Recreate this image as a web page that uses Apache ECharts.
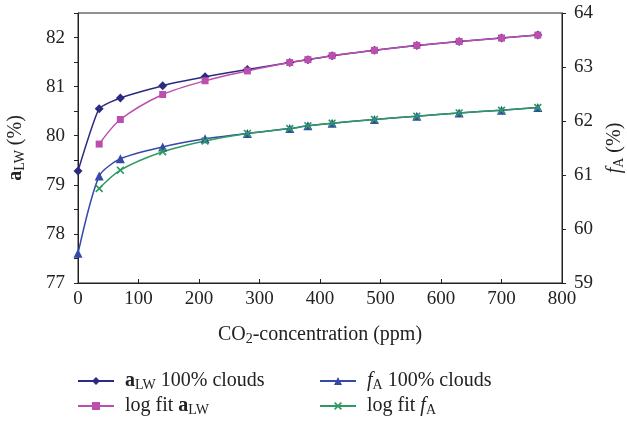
<!DOCTYPE html>
<html><head><meta charset="utf-8">
<script src="https://cdn.jsdelivr.net/npm/echarts@6/dist/echarts.min.js"></script>
<style>html,body{margin:0;padding:0;background:#fff}#c{width:627px;height:423px}</style>
</head><body><div id="c"></div>
<script>
var xs = [0,35,70,140,210,280,350,380,420,490,560,630,700,760];
var aLW = [79.28,80.55,80.77,81.02,81.20,81.35,81.49,81.55,81.63,81.74,81.84,81.92,81.99,82.05];
var fitXs = [35,70,140,210,280,350,380,420,490,560,630,700,760];
var fitALW = [79.83,80.33,80.84,81.12,81.32,81.49,81.55,81.63,81.74,81.84,81.92,81.99,82.05];
var fA = [59.55,60.98,61.30,61.52,61.67,61.77,61.86,61.91,61.96,62.03,62.09,62.15,62.20,62.25];
var fitFA = [60.75,61.09,61.43,61.63,61.77,61.86,61.91,61.96,62.03,62.09,62.15,62.20,62.25];
var xTicks = [0,100,200,300,400,500,600,700,800];
var names = ['aLW 100% clouds','log fit aLW','fA 100% clouds','log fit fA'];

function pairs(x, y){ return x.map(function(v,i){return [v,y[i]];}); }
var FONT = 'Liberation Serif';
var C1='#2C2B80', C2='#BC4FAE', C3='#3449A8', C4='#2E9A64';
var xSym = 'path://M0,1.5 L1.5,0 L5,3.5 L8.5,0 L10,1.5 L6.5,5 L10,8.5 L8.5,10 L5,6.5 L1.5,10 L0,8.5 L3.5,5 Z';
var rich = {
  g:{width:6, height:20},
  n:{fontFamily:FONT,fontSize:20,color:'#222',lineHeight:20},
  b:{fontFamily:FONT,fontSize:20,fontWeight:'bold',color:'#222',lineHeight:20},
  i:{fontFamily:FONT,fontSize:20,fontStyle:'italic',color:'#222',lineHeight:20},
  s:{fontFamily:FONT,fontSize:14,color:'#222',lineHeight:12,padding:[8,0,0,0]}
};
var legFmt = {};
legFmt[names[0]] = '{g|}{b|a}{s|LW}{n| 100% clouds}';
legFmt[names[1]] = '{g|}{n|log fit }{b|a}{s|LW}';
legFmt[names[2]] = '{g|}{i|f}{s|A}{n| 100% clouds}';
legFmt[names[3]] = '{g|}{n|log fit }{i|f}{s|A}';

var chart = echarts.init(document.getElementById('c'));
function legend(left, top, name){
  return {orient:'horizontal', left:left, top:top, padding:0, itemWidth:36, itemHeight:10,
    data:[name], formatter:function(n){return legFmt[n];}, textStyle:{rich:rich, fontFamily:FONT}};
}
chart.setOption({
  animation:false,
  textStyle:{fontFamily:FONT},
  grid:{left:78, right:65, top:13, bottom:140, show:true, borderColor:'#222', borderWidth:1, outerBoundsMode:'none', containLabel:false},
  legend:[legend(77,370,names[0]), legend(77,395,names[1]), legend(319,370,names[2]), legend(319,395,names[3])],
  xAxis:{type:'value', min:0, max:800, interval:100,
    name:'{n|CO}{s|2}{n|-concentration (ppm)}', nameLocation:'middle', nameGap:42,
    nameTextStyle:{rich:rich},
    axisLine:{lineStyle:{color:'#222'}}, axisTick:{inside:true, length:4, lineStyle:{color:'#222'}},
    axisLabel:{fontFamily:FONT, fontSize:19, color:'#222', margin:7}, splitLine:{show:false}},
  yAxis:[
    {type:'value', min:77, max:82.5, interval:0.5, position:'left',
     name:'{b|a}{s|LW}{n| (%)}', nameLocation:'middle', nameGap:52, nameRotate:90,
     nameTextStyle:{rich:rich},
     axisLine:{show:true, lineStyle:{color:'#222'}}, axisTick:{show:true, length:4, lineStyle:{color:'#222'}},
     axisLabel:{fontFamily:FONT, fontSize:19, color:'#222', margin:13,
       formatter:function(v){return (Math.abs(v-Math.round(v))<1e-6)?String(Math.round(v)):'';}},
     splitLine:{show:false}},
    {type:'value', min:59, max:64, interval:1, position:'right',
     name:'{i|f}{s|A}{n| (%)}', nameLocation:'middle', nameGap:40, nameRotate:90,
     nameTextStyle:{rich:rich},
     axisLine:{show:true, lineStyle:{color:'#222'}}, axisTick:{show:true, length:4, lineStyle:{color:'#222'}},
     axisLabel:{fontFamily:FONT, fontSize:19, color:'#222', margin:12},
     splitLine:{show:false}}
  ],
  series:[
    {name:names[0], type:'line', yAxisIndex:0, data:pairs(xs,aLW), smooth:0.15,
     symbol:'diamond', symbolSize:9, lineStyle:{color:C1,width:1.5}, itemStyle:{color:C1}},
    {name:names[1], type:'line', yAxisIndex:0, data:pairs(fitXs,fitALW), smooth:0.3,
     symbol:'rect', symbolSize:7, lineStyle:{color:C2,width:1.5}, itemStyle:{color:C2}},
    {name:names[2], type:'line', yAxisIndex:1, data:pairs(xs,fA), smooth:0.25,
     symbol:'triangle', symbolSize:9, lineStyle:{color:C3,width:1.5}, itemStyle:{color:C3}},
    {name:names[3], type:'line', yAxisIndex:1, data:pairs(fitXs,fitFA), smooth:0.3,
     symbol:xSym, symbolSize:8, lineStyle:{color:C4,width:1.5}, itemStyle:{color:C4}}
  ]
});
</script></body></html>
